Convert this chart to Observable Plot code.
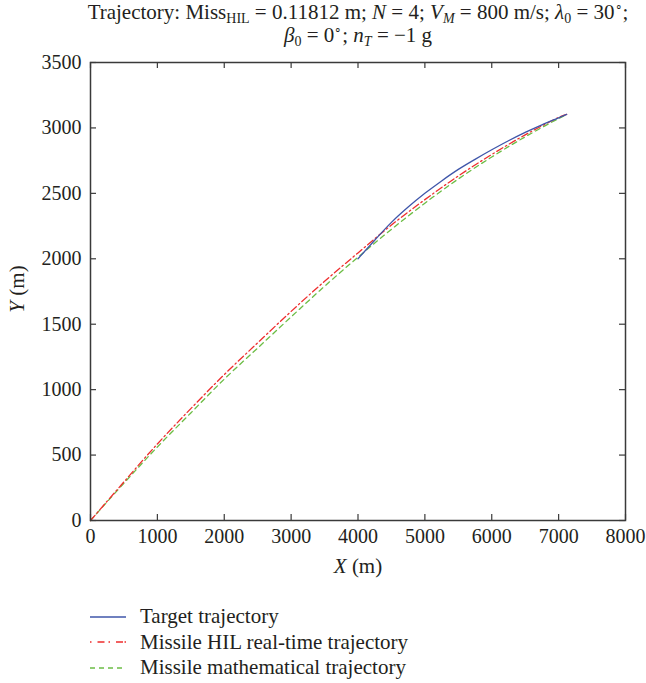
<!DOCTYPE html>
<html><head><meta charset="utf-8">
<script src="https://cdn.jsdelivr.net/npm/d3@7"></script>
<script src="https://cdn.jsdelivr.net/npm/@observablehq/plot@0.6"></script>
<style>
body{margin:0;background:#fff;font-family:"Liberation Serif",serif;color:#231f20;}
#wrap{position:relative;width:646px;height:683px;overflow:hidden;}
#title{position:absolute;left:0;top:1px;width:646px;text-align:center;padding-left:70px;box-sizing:border-box;font-size:21px;line-height:23px;white-space:nowrap;z-index:2;}
#title sub{font-size:14px;vertical-align:-4px;line-height:0;}
#title sup{font-size:12px;vertical-align:8px;line-height:0;}
#chart{position:absolute;left:0;top:50px;z-index:1;}
.axlab{position:absolute;font-size:21px;white-space:nowrap;line-height:22px;}
#xlab{left:0;width:646px;text-align:center;top:555px;padding-left:70px;box-sizing:border-box;}
#ylab{left:17px;top:289px;transform:translate(-50%,-50%) rotate(-90deg);}
#legend{position:absolute;left:90px;top:604px;font-size:21px;}
.row{display:flex;align-items:center;height:25.5px;}
.row svg{width:36px;height:10px;margin-right:14px;}
</style>
</head><body>
<div id="wrap">
  <div id="title">Trajectory: Miss<sub>HIL</sub> = 0.11812 m; <i>N</i> = 4; <i>V</i><sub><i>M</i></sub> = 800 m/s; <i>λ</i><sub>0</sub> = 30<sup>∘</sup>;<br><i>β</i><sub>0</sub> = 0<sup>∘</sup>; <i>n</i><sub><i>T</i></sub> = −1 g</div>
  <div id="chart"></div>
  <div class="axlab" id="xlab"><i>X</i> (m)</div>
  <div class="axlab" id="ylab"><i>Y</i> (m)</div>
  <div id="legend"></div>
</div>
<script>
// ---- data ----
const seriesNames = ["Target trajectory", "Missile HIL real-time trajectory", "Missile mathematical trajectory"];
const targetX = [4000, 4250, 4500, 4750, 5000, 5250, 5500, 5750, 6000, 6250, 6500, 6750, 7000, 7120];
const targetY = [2000, 2142, 2278, 2395, 2500, 2595, 2683, 2760, 2833, 2902, 2966, 3024, 3077, 3103];
const missileX = [0, 500, 1000, 1500, 2000, 2500, 3000, 3500, 4000, 4500, 5000, 5500, 6000, 6500, 7000, 7120];
const hilY = [0, 295, 585, 855, 1115, 1358, 1598, 1828, 2045, 2258, 2452, 2633, 2797, 2947, 3080, 3103];
const mathY = [0, 285, 562, 822, 1080, 1318, 1556, 1790, 2012, 2225, 2425, 2610, 2778, 2932, 3072, 3103];
const xTicks = [0, 1000, 2000, 3000, 4000, 5000, 6000, 7000, 8000];
const yTicks = [0, 500, 1000, 1500, 2000, 2500, 3000, 3500];

// ---- styles ----
const colors = ["#3f56aa", "#ee2d2d", "#6cbd45"];
const dashes = [null, "7,3,1.5,3", "5,4"];

const target = targetX.map((x, i) => ({x, y: targetY[i]}));
const hil = missileX.map((x, i) => ({x, y: hilY[i]}));
const math = missileX.map((x, i) => ({x, y: mathY[i]}));

const W = 646, H = 530, mt = 12, mb = 60, ml = 90, mr = 21;
const innerW = W - ml - mr, innerH = H - mt - mb, tk = 6;
const axisColor = "#3a3a3a";

const chart = Plot.plot({
  width: W, height: H, marginTop: mt, marginBottom: mb, marginLeft: ml, marginRight: mr,
  x: {domain: [0, 8000]},
  y: {domain: [0, 3500]},
  style: {fontFamily: "Liberation Serif", fontSize: "20px", color: "#231f20", background: "transparent", overflow: "visible"},
  marks: [
    Plot.line(math, {x: "x", y: "y", stroke: colors[2], strokeWidth: 1.3, strokeDasharray: dashes[2], curve: "catmull-rom"}),
    Plot.line(hil, {x: "x", y: "y", stroke: colors[1], strokeWidth: 1.3, strokeDasharray: dashes[1], curve: "catmull-rom"}),
    Plot.line(target, {x: "x", y: "y", stroke: colors[0], strokeWidth: 1.3, curve: "catmull-rom"}),
    Plot.tickX(xTicks, {x: d => d, insetTop: innerH - tk, stroke: axisColor, strokeWidth: 1.2}),
    Plot.tickX(xTicks, {x: d => d, insetBottom: innerH - tk, stroke: axisColor, strokeWidth: 1.2}),
    Plot.tickY(yTicks, {y: d => d, insetRight: innerW - tk, stroke: axisColor, strokeWidth: 1.2}),
    Plot.tickY(yTicks, {y: d => d, insetLeft: innerW - tk, stroke: axisColor, strokeWidth: 1.2}),
    Plot.frame({stroke: axisColor, strokeWidth: 1.5}),
    Plot.axisX(xTicks, {tickSize: 0, tickPadding: 8, label: null, tickFormat: d => String(d)}),
    Plot.axisY(yTicks, {tickSize: 0, tickPadding: 9, label: null, tickFormat: d => String(d)})
  ]
});
document.getElementById("chart").appendChild(chart);

// legend
const leg = d3.select("#legend");
seriesNames.forEach((name, i) => {
  const row = leg.append("div").attr("class", "row");
  const s = row.append("svg").attr("width", 36).attr("height", 10);
  s.append("line").attr("x1", 0).attr("x2", 36).attr("y1", 5).attr("y2", 5)
    .attr("stroke", colors[i]).attr("stroke-width", 1.3)
    .attr("stroke-dasharray", i === 1 ? "1.5,6,7,4,1.5,6,7" : dashes[i]);
  row.append("span").text(name);
});
</script>
</body></html>
